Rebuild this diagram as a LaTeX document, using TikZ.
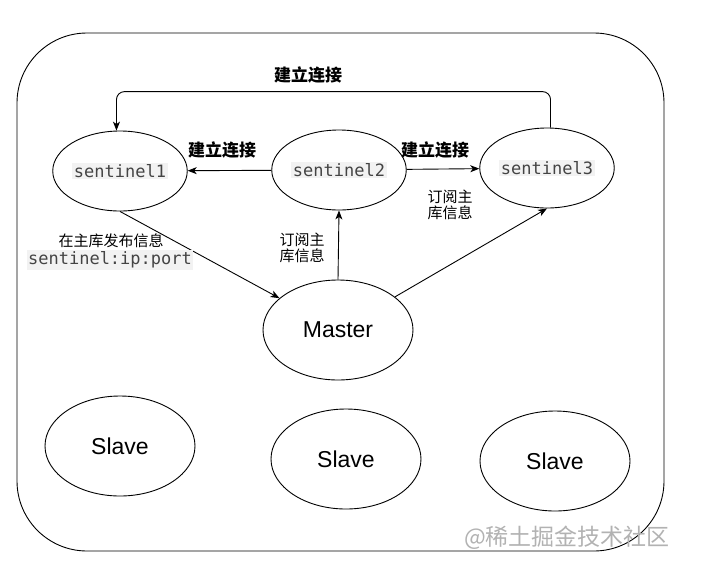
\documentclass[tikz,border=0pt]{standalone}
\usepackage{fontspec}
\setmainfont{Liberation Sans}
\newfontfamily\cjk{Noto Sans CJK SC}
\newfontfamily\codefont{DejaVu Sans Mono}
\usetikzlibrary{arrows.meta,shapes.geometric}
\definecolor{codebg}{HTML}{F2F2F2}
\definecolor{codetext}{HTML}{444444}
\newcommand{\codebox}[1]{{\setlength{\fboxsep}{1.5pt}\colorbox{codebg}{\codefont\color{codetext}#1}}}

\begin{document}
\begin{tikzpicture}[x=1pt, y=-1pt, >={Stealth[length=9pt,width=7pt,inset=2.5pt]},
    every path/.style={line width=0.9pt},
    conn/.style={->},
    sentnode/.style={ellipse, draw, minimum width=114, minimum height=80, inner sep=0pt,
      font=\fontsize{17}{20}\selectfont},
    bignode/.style={ellipse, draw, minimum width=150, minimum height=100, inner sep=0pt,
      font=\fontsize{23}{27}\selectfont},
    linklabel/.style={font=\cjk\bfseries\fontsize{17}{20}\selectfont},
    sublabel/.style={font=\cjk\fontsize{15}{16}\selectfont, align=center, inner sep=0pt}]
  \useasboundingbox (0,0) rectangle (704,563);

  % Outer frame
  \draw[rounded corners=70] (17,33) rectangle (664,551);

  % Sentinels
  \node[sentnode] (s1) at (120,171) {\codebox{sentinel1}};
  \node[sentnode] (s2) at (339,170) {\codebox{sentinel2}};
  \node[sentnode] (s3) at (547,168) {\codebox{sentinel3}};

  % Master and slaves
  \node[bignode] (m) at (338,330) {Master};
  \node[bignode] (sl1) at (120,446) {Slave};
  \node[bignode] (sl2) at (346,459) {Slave};
  \node[bignode] (sl3) at (555,461) {Slave};

  % Connections between sentinels
  \draw[conn] (s2) -- (s1);
  \draw[conn] (s2) -- (s3);
  \draw[conn, rounded corners=8] (s3.85) -- ++(0,-36) -| (s1.95);
  \node[linklabel] (lnktop) at (308,75) {建立连接};
  \node[linklabel] (lnkleft) at (222,150) {建立连接};
  \node[linklabel] (lnkright) at (435,150) {建立连接};

  % Master links
  \draw[conn] (s1.south) -- (m);
  \draw[conn] (m.north) -- (s2.south);
  \draw[conn] (m) -- (s3.south);
  \node[sublabel] (pubtext) at (111,241) {在主库发布信息};
  \node[inner sep=0pt, font=\fontsize{17}{20}\selectfont] (pubcode) at (110,260) {\codebox{sentinel:ip:port}};
  \node[sublabel] (sub2) at (302,248) {订阅主\\库信息};
  \node[sublabel] (sub3) at (450,205) {订阅主\\库信息};

  % Watermark
  \node[font=\cjk\fontsize{23}{26}\selectfont, text=black!30] (mark) at (567,538) {@稀土掘金技术社区};
\end{tikzpicture}
\end{document}
